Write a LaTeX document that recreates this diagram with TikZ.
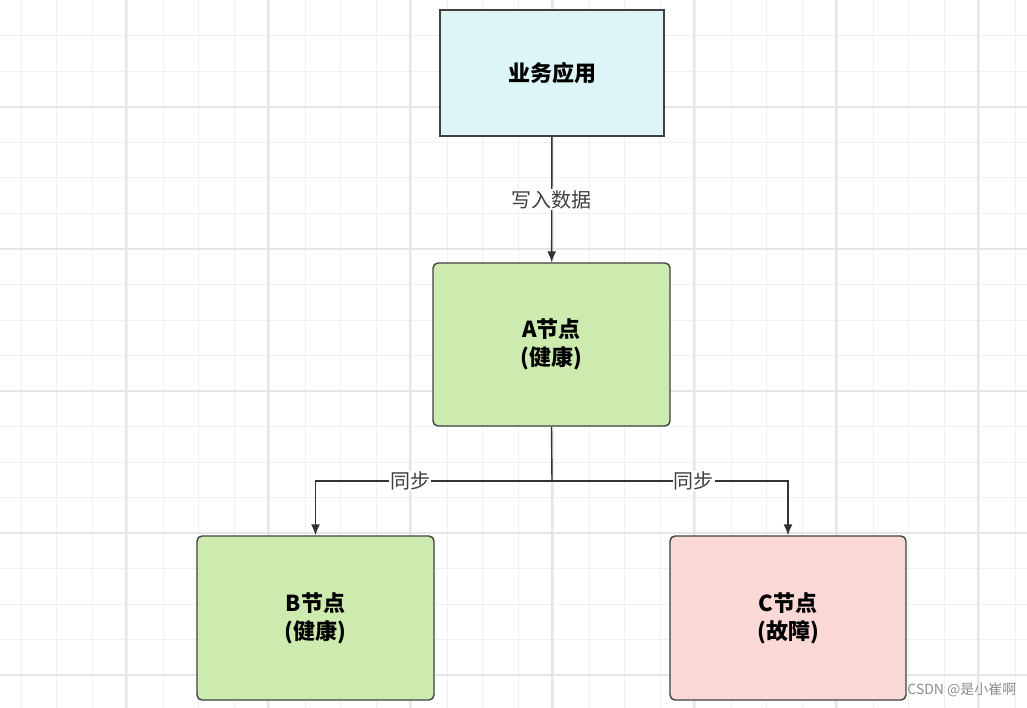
\documentclass[tikz,border=0pt]{standalone}
\usepackage{fontspec}
\setmainfont{Noto Sans CJK SC}
\begin{document}
\begin{tikzpicture}[x=1pt,y=-1pt,
  box/.style={draw=black!75,line width=1.4pt,rounded corners=5pt,font=\bfseries\fontsize{22}{28}\selectfont,align=center,inner sep=0pt},
  lbl/.style={fill=white,inner sep=1pt,font=\fontsize{20}{24}\selectfont,text=black!75},
  con/.style={draw=black!80,line width=1.4pt,-{Latex[length=11pt,width=9pt]}}]
\usetikzlibrary{arrows.meta}
\useasboundingbox (0,0) rectangle (1027,708);
\fill[white] (0,0) rectangle (1027,708);
\foreach \k in {0,...,28}{
  \pgfmathsetmacro\xx{21+35.5*\k}
  \draw[black!6,line width=1pt] (\xx,0) -- (\xx,708);
}
\foreach \k in {0,...,19}{
  \pgfmathsetmacro\yy{36+35.5*\k}
  \draw[black!6,line width=1pt] (0,\yy) -- (1027,\yy);
}
\foreach \k in {0,...,7}{
  \pgfmathsetmacro\xx{126+142*\k}
  \draw[black!10,line width=1.5pt] (\xx,0) -- (\xx,708);
}
\foreach \k in {0,...,4}{
  \pgfmathsetmacro\yy{107+142*\k}
  \draw[black!10,line width=1.5pt] (0,\yy) -- (1027,\yy);
}
\node[box,rounded corners=0pt,fill={rgb,255:red,221;green,245;blue,246},minimum width=224pt,minimum height=126pt] (app) at (552,73) {业务应用};
\node[box,fill={rgb,255:red,205;green,235;blue,174},minimum width=237pt,minimum height=163pt] (a) at (551.5,344.5) {A节点\\(健康)};
\node[box,fill={rgb,255:red,205;green,235;blue,174},minimum width=237pt,minimum height=164pt] (b) at (315.5,618) {B节点\\(健康)};
\node[box,fill={rgb,255:red,249;green,216;blue,214},minimum width=236pt,minimum height=164pt] (c) at (788,618) {C节点\\(故障)};
\coordinate (j) at (552,481);
\draw[con] (app) -- node[lbl]{写入数据} (a);
\draw[draw=black!80,line width=1.4pt] (a.south) -- (j);
\draw[con] (j) -- node[lbl,pos=0.6]{同步} (315.5,481) -- (b.north);
\draw[con] (j) -- node[lbl,pos=0.6]{同步} (788,481) -- (c.north);
\node[font=\fontsize{14}{16}\selectfont,text=black!45,anchor=east] (wm) at (1020,690) {CSDN @是小崔啊};
\end{tikzpicture}
\end{document}
